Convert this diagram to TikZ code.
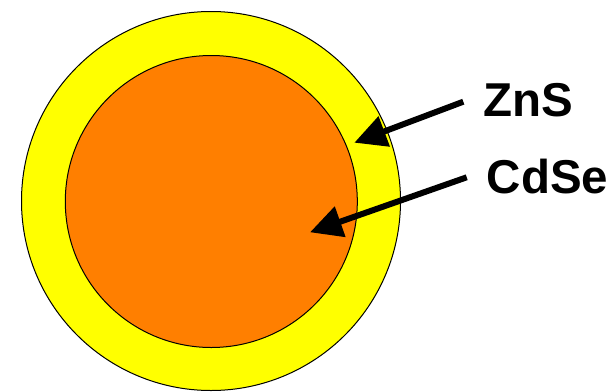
\documentclass[tikz,border=0pt]{standalone}
\usepackage{fontspec}
\setmainfont{Liberation Sans}
\usetikzlibrary{arrows.meta}
\definecolor{shellyellow}{HTML}{FFFF00}
\definecolor{coreorange}{HTML}{FF7F00}
\begin{document}
\begin{tikzpicture}[x=1pt,y=-1pt,
  layer/.style={draw=black,line width=1pt},
  pointer/.style={line width=6pt,-{Triangle[length=32pt,width=31pt]}},
  label/.style={inner sep=0pt,anchor=base west,font=\fontsize{47.5}{50}\selectfont\bfseries}]
\useasboundingbox (0,0) rectangle (612,391);
\node[layer,fill=shellyellow,circle,minimum size=379pt,inner sep=0pt] (shell) at (211,201) {};
\node[layer,fill=coreorange,circle,minimum size=292pt,inner sep=0pt] (core) at (211.3,201.5) {};
\node[label] (zns) at (483,116.7) {ZnS};
\node[label] (cdse) at (486.7,193.3) {CdSe};
\coordinate (znsfrom) at (463.3,101.7);
\coordinate (znsto) at (354.3,142.7);
\coordinate (cdsefrom) at (466.7,177.3);
\coordinate (cdseto) at (310,232.3);
\draw[pointer] (znsfrom) -- (znsto);
\draw[pointer] (cdsefrom) -- (cdseto);
\end{tikzpicture}
\end{document}
